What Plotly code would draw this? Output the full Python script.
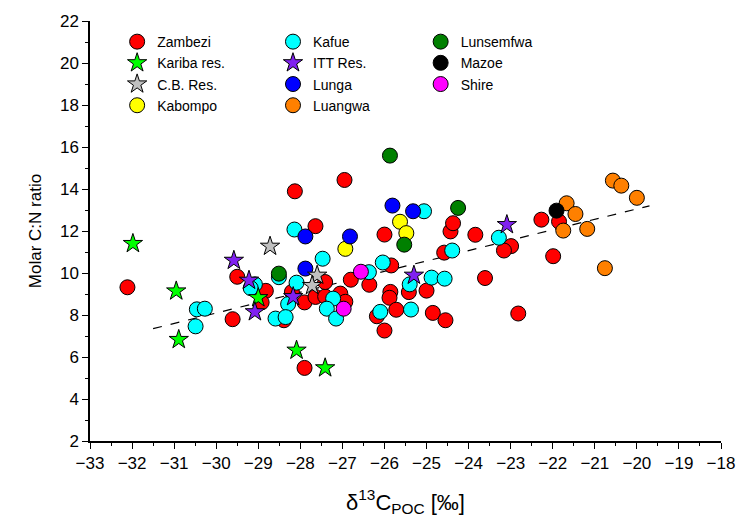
import plotly.graph_objects as go

# δ13C of POC (‰) and molar C:N ratio per sampling group
zambezi_x = [-32.11, -29.50, -28.82, -28.92, -29.61, -28.13, -27.64, -26.95, -28.20, -27.90,
             -27.64, -27.41, -27.41, -27.05, -26.93, -26.80, -26.36, -25.84, -26.00, -25.86,
             -25.88, -25.72, -26.18, -26.00, -25.42, -25.00, -24.85, -24.55, -24.58, -24.43,
             -24.37, -23.84, -23.61, -22.99, -23.16, -22.82, -22.27, -21.85, -21.99, -27.90,
             -28.39]
zambezi_y = [9.32, 9.82, 9.15, 8.60, 7.80, 13.89, 12.23, 14.43, 9.10, 8.60,
             8.86, 8.88, 9.57, 9.02, 8.63, 9.68, 9.44, 10.36, 11.83, 9.10,
             8.82, 8.25, 7.94, 7.26, 9.09, 9.16, 8.10, 7.75, 10.97, 11.98,
             12.37, 11.82, 9.76, 11.28, 11.07, 8.07, 12.54, 12.45, 10.80, 5.48,
             7.75]

kafue_x = [-30.46, -30.27, -30.49, -29.08, -29.18, -28.51, -28.09, -28.29, -28.59, -28.35,
           -28.14, -27.47, -27.22, -27.37, -27.15, -26.37, -26.04, -26.10, -25.06, -25.40,
           -24.88, -24.57, -25.37, -24.39, -23.28]
kafue_y = [8.27, 8.30, 7.46, 9.46, 9.28, 9.80, 9.54, 8.52, 7.83, 7.90,
           12.07, 10.68, 8.78, 8.30, 7.83, 10.04, 10.50, 8.15, 12.94, 9.46,
           9.78, 9.73, 8.26, 11.07, 11.68]

kabompo_x = [-25.63, -25.48, -26.93]
kabompo_y = [12.44, 11.90, 11.15]

lunga_x = [-27.88, -27.88, -26.82, -25.81, -25.32]
lunga_y = [11.74, 10.21, 11.74, 13.21, 12.94]

luangwa_x = [-20.57, -20.37, -20.00, -21.67, -21.46, -21.75, -21.18, -20.76]
luangwa_y = [14.40, 14.16, 13.58, 13.32, 12.81, 12.02, 12.10, 10.23]

lunsemfwa_x = [-25.87, -25.53, -28.51, -24.25]
lunsemfwa_y = [15.59, 11.35, 9.97, 13.10]

mazoe_x = [-21.91]
mazoe_y = [12.97]

shire_x = [-26.56, -26.97]
shire_y = [10.06, 8.30]

kariba_x = [-31.98, -30.95, -30.89, -29.00, -28.09, -27.41]
kariba_y = [11.40, 9.14, 6.83, 8.82, 6.32, 5.48]

cb_x = [-28.72, -27.60, -27.72]
cb_y = [11.27, 9.89, 9.40]

itt_x = [-29.58, -29.22, -29.08, -28.17, -25.30, -23.09]
itt_y = [10.60, 9.65, 8.15, 8.87, 9.89, 12.30]

# linear trend drawn across the data
fit_x = [-31.5, -19.7]
fit_y = [7.35, 13.2]

FONT = "Liberation Sans, Arial, sans-serif"

fig = go.Figure()

fig.add_trace(go.Scatter(x=fit_x, y=fit_y, mode="lines", showlegend=False,
                         line=dict(color="black", width=1.2, dash="dash")))

# (name, x, y, colour, symbol, legend, rank)
groups = [
    ("Zambezi", zambezi_x, zambezi_y, "#FF0000", "circle", "legend", 1),
    ("Kafue", kafue_x, kafue_y, "#00FFFF", "circle", "legend2", 1),
    ("Kabompo", kabompo_x, kabompo_y, "#FFFF00", "circle", "legend", 4),
    ("Lunga", lunga_x, lunga_y, "#0000FF", "circle", "legend2", 3),
    ("Luangwa", luangwa_x, luangwa_y, "#FF8000", "circle", "legend2", 4),
    ("Lunsemfwa", lunsemfwa_x, lunsemfwa_y, "#008000", "circle", "legend3", 1),
    ("Mazoe", mazoe_x, mazoe_y, "#000000", "circle", "legend3", 2),
    ("Shire", shire_x, shire_y, "#FF00FF", "circle", "legend3", 3),
    ("Kariba res.", kariba_x, kariba_y, "#00FF00", "star", "legend", 2),
    ("C.B. Res.", cb_x, cb_y, "#C0C0C0", "star", "legend", 3),
    ("ITT Res.", itt_x, itt_y, "#8020F0", "star", "legend2", 2),
]

for name, xs, ys, col, sym, leg, rank in groups:
    fig.add_trace(go.Scatter(
        x=xs, y=ys, mode="markers", name=name, legend=leg, legendrank=rank,
        marker=dict(color=col, symbol=sym, size=15 if sym == "circle" else 14.5,
                    line=dict(color="black", width=1)),
    ))

legend_common = dict(font=dict(family=FONT, size=14, color="black"),
                     bgcolor="rgba(0,0,0,0)", xanchor="left", yanchor="top",
                     tracegroupgap=0, itemsizing="trace")

fig.update_layout(
    width=747, height=523,
    margin=dict(l=90, r=23, t=20, b=82),
    paper_bgcolor="white", plot_bgcolor="white",
    font=dict(family=FONT, size=16, color="black"),
    legend=dict(x=0.043, y=0.988, **legend_common),
    legend2=dict(x=0.29, y=0.988, **legend_common),
    legend3=dict(x=0.524, y=0.988, **legend_common),
    xaxis=dict(
        range=[-33, -18], dtick=1, tick0=-33, showgrid=False, zeroline=False,
        showline=True, linecolor="black", linewidth=1.5,
        ticks="outside", ticklen=6, tickwidth=1.2, tickcolor="black",
        tickfont=dict(family=FONT, size=17),
        minor=dict(dtick=0.5, ticks="outside", ticklen=3, tickwidth=1.2, tickcolor="black"),
        title=dict(text="δ<sup>13</sup>C<sub>POC</sub> [‰]",
                   font=dict(family=FONT, size=22), standoff=22),
    ),
    yaxis=dict(
        range=[2, 22], dtick=2, tick0=2, showgrid=False, zeroline=False,
        showline=True, linecolor="black", linewidth=1.5,
        ticks="outside", ticklen=6, tickwidth=1.2, tickcolor="black",
        tickfont=dict(family=FONT, size=17),
        minor=dict(dtick=1, ticks="outside", ticklen=3, tickwidth=1.2, tickcolor="black"),
        title=dict(text="Molar C:N ratio", font=dict(family=FONT, size=17), standoff=14),
    ),
)

fig.write_html("out.html")
